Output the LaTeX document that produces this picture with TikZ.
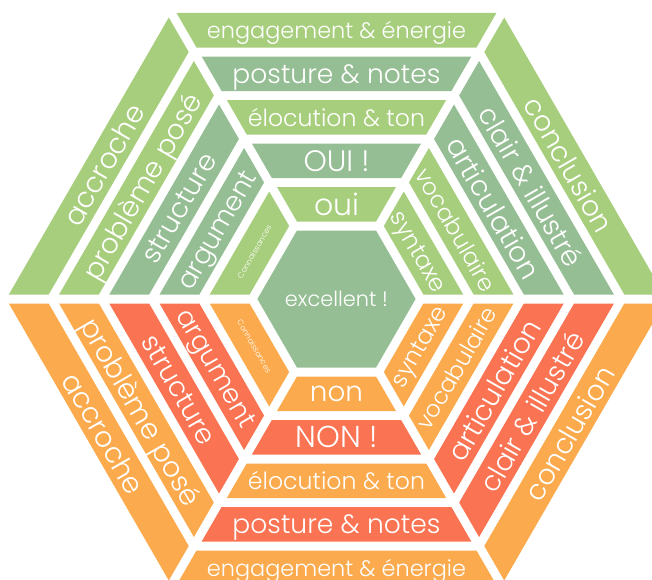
\documentclass[tikz,border=0pt]{standalone}
\usepackage{fontspec}
\IfFontExistsTF{Poppins Light}{\setmainfont{Poppins Light}}{\setmainfont{Poppins}}
\definecolor{lg}{HTML}{A7CE7C}
\definecolor{sg}{HTML}{96BE94}
\definecolor{rd}{HTML}{FA7352}
\definecolor{og}{HTML}{FBAA4D}
\newcommand{\hexseg}[4]{\fill[#4,rotate=#1] ({-(0.57735*#2-5.196)},#2) -- ({0.57735*#2-5.196},#2) -- ({0.57735*#3-5.196},#3) -- ({-(0.57735*#3-5.196)},#3) -- cycle;}
\newcommand{\fitw}[2]{\resizebox{#1pt}{!}{\raisebox{0pt}[\height][0pt]{#2}}}
\begin{document}
\begin{tikzpicture}[x=1pt,y=1pt,lbl/.style={text=white,inner sep=0pt,anchor=center}]
\useasboundingbox (-336.5,-280) rectangle (315.5,299);
% ring 1 (outer)
\hexseg{0}{251.5}{286}{lg}
\hexseg{-60}{251.5}{286}{lg}
\hexseg{-120}{251.5}{286}{og}
\hexseg{180}{251.5}{286}{og}
\hexseg{120}{251.5}{286}{og}
\hexseg{60}{251.5}{286}{lg}
% ring 2
\hexseg{0}{208}{242.5}{sg}
\hexseg{-60}{208}{242.5}{sg}
\hexseg{-120}{208}{242.5}{rd}
\hexseg{180}{208}{242.5}{rd}
\hexseg{120}{208}{242.5}{og}
\hexseg{60}{208}{242.5}{lg}
% ring 3
\hexseg{0}{164.5}{199}{lg}
\hexseg{-60}{164.5}{199}{sg}
\hexseg{-120}{164.5}{199}{rd}
\hexseg{180}{164.5}{199}{og}
\hexseg{120}{164.5}{199}{rd}
\hexseg{60}{164.5}{199}{sg}
% ring 4
\hexseg{0}{121}{155.5}{sg}
\hexseg{-60}{121}{155.5}{lg}
\hexseg{-120}{121}{155.5}{og}
\hexseg{180}{121}{155.5}{rd}
\hexseg{120}{121}{155.5}{rd}
\hexseg{60}{121}{155.5}{sg}
% ring 5
\hexseg{0}{77.5}{112}{lg}
\hexseg{-60}{77.5}{112}{lg}
\hexseg{-120}{77.5}{112}{og}
\hexseg{180}{77.5}{112}{og}
\hexseg{120}{77.5}{112}{og}
\hexseg{60}{77.5}{112}{lg}
% centre
\fill[sg] (0:79.1) -- (60:79.1) -- (120:79.1) -- (180:79.1) -- (240:79.1) -- (300:79.1) -- cycle;
\node[lbl] (centre) at (0,0) {\fitw{103}{excellent !}};
% top labels
\node[lbl] (t1) at (90:268.75) {\fitw{259}{engagement \& énergie}};
\node[lbl] (t2) at (90:225.25) {\fitw{208}{posture \& notes}};
\node[lbl] (t3) at (90:181.75) {\fitw{177}{élocution \& ton}};
\node[lbl] (t4) at (90:138.25) {\fitw{66}{OUI !}};
\node[lbl] (t5) at (90:94.75) {\fitw{45}{oui}};
% bottom labels
\node[lbl] (b1) at (-90:268.75) {\fitw{259}{engagement \& énergie}};
\node[lbl] (b2) at (-90:225.25) {\fitw{208}{posture \& notes}};
\node[lbl] (b3) at (-90:181.75) {\fitw{177}{élocution \& ton}};
\node[lbl] (b4) at (-90:138.25) {\fitw{82}{NON !}};
\node[lbl] (b5) at (-90:94.75) {\fitw{53}{non}};
% upper left
\node[lbl,rotate=60] (ul1) at (150:268.75) {\fitw{135}{accroche}};
\node[lbl,rotate=60] (ul2) at (150:225.25) {\fitw{210}{problème posé}};
\node[lbl,rotate=60] (ul3) at (150:181.75) {\fitw{122}{structure}};
\node[lbl,rotate=60] (ul4) at (150:138.25) {\fitw{132}{argument}};
\node[lbl,rotate=60] (ul5) at (150:94.75) {\fitw{60}{Connaissances}};
% lower left
\node[lbl,rotate=-60] (ll1) at (-150:268.75) {\fitw{135}{accroche}};
\node[lbl,rotate=-60] (ll2) at (-150:225.25) {\fitw{212}{problème posé}};
\node[lbl,rotate=-60] (ll3) at (-150:181.75) {\fitw{122}{structure}};
\node[lbl,rotate=-60] (ll4) at (-150:138.25) {\fitw{132}{argument}};
\node[lbl,rotate=-60] (ll5) at (-150:94.75) {\fitw{60}{Connaissances}};
% upper right
\node[lbl,rotate=-60] (ur1) at (30:268.75) {\fitw{150}{conclusion}};
\node[lbl,rotate=-60] (ur2) at (30:225.25) {\fitw{180}{clair \& illustré}};
\node[lbl,rotate=-60] (ur3) at (30:181.75) {\fitw{158}{articulation}};
\node[lbl,rotate=-60] (ur4) at (30:138.25) {\fitw{137}{vocabulaire}};
\node[lbl,rotate=-60] (ur5) at (30:94.75) {\fitw{90}{syntaxe}};
% lower right
\node[lbl,rotate=60] (lr1) at (-30:268.75) {\fitw{150}{conclusion}};
\node[lbl,rotate=60] (lr2) at (-30:225.25) {\fitw{180}{clair \& illustré}};
\node[lbl,rotate=60] (lr3) at (-30:181.75) {\fitw{158}{articulation}};
\node[lbl,rotate=60] (lr4) at (-30:138.25) {\fitw{137}{vocabulaire}};
\node[lbl,rotate=60] (lr5) at (-30:94.75) {\fitw{90}{syntaxe}};
\end{tikzpicture}
\end{document}
